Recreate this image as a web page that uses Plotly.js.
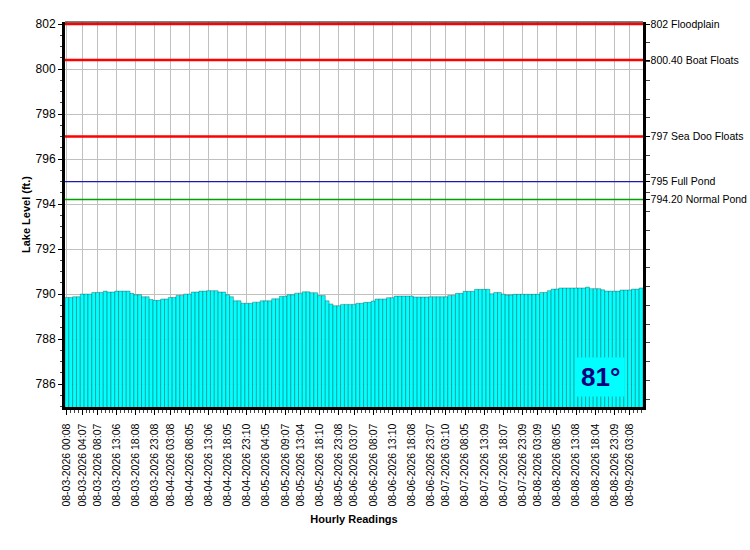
<!DOCTYPE html>
<html>
<head>
<meta charset="utf-8">
<script src="https://cdn.plot.ly/plotly-3.0.1.min.js"></script>
<style>html,body{margin:0;padding:0;background:#fff;}#chart{width:750px;height:550px;}</style>
</head>
<body>
<div id="chart"></div>
<script>
// Hourly lake level readings (ft.), 08-03-2026 00:08 onward, one per hour
var levels = [
  789.85, 789.85, 789.88, 789.88, 790.00, 790.00, 790.00, 790.07, 790.07, 790.07,
  790.13, 790.09, 790.09, 790.13, 790.13, 790.13, 790.13, 790.03, 789.97, 789.97,
  789.88, 789.88, 789.76, 789.72, 789.72, 789.78, 789.78, 789.85, 789.85, 789.94,
  789.94, 790.00, 790.00, 790.09, 790.09, 790.13, 790.13, 790.15, 790.15, 790.15,
  790.09, 790.09, 789.97, 789.88, 789.70, 789.70, 789.59, 789.59, 789.59, 789.64,
  789.64, 789.70, 789.70, 789.70, 789.79, 789.79, 789.90, 789.90, 789.97, 789.97,
  790.04, 790.04, 790.10, 790.10, 790.06, 790.06, 789.93, 789.93, 789.70, 789.56,
  789.48, 789.48, 789.54, 789.54, 789.54, 789.54, 789.59, 789.59, 789.63, 789.63,
  789.69, 789.78, 789.78, 789.78, 789.84, 789.84, 789.91, 789.91, 789.91, 789.91,
  789.91, 789.87, 789.87, 789.87, 789.87, 789.88, 789.88, 789.88, 789.88, 789.88,
  789.94, 789.94, 790.03, 790.03, 790.12, 790.12, 790.12, 790.21, 790.21, 790.21,
  790.21, 790.01, 790.07, 790.07, 790.00, 789.96, 789.96, 789.99, 789.99, 789.99,
  789.99, 789.99, 789.99, 789.99, 790.07, 790.07, 790.15, 790.22, 790.22, 790.27,
  790.27, 790.27, 790.27, 790.27, 790.27, 790.27, 790.31, 790.24, 790.24, 790.24,
  790.19, 790.13, 790.13, 790.13, 790.13, 790.18, 790.18, 790.18, 790.22, 790.22,
  790.27
];
// reading index (hours since first reading)
var hours = levels.map(function (v, i) { return i; });

// x-axis tick labels and the reading hour they sit at
var tickHours = [0, 4, 8, 13, 18, 23, 27, 32, 37, 42, 47, 52, 57, 61, 66, 71, 75, 80, 85, 90, 95, 99, 104, 109, 114, 119, 123, 128, 133, 138, 143, 147];
var tickLabels = [
  "08-03-2026 00:08", "08-03-2026 04:07", "08-03-2026 08:07", "08-03-2026 13:06", "08-03-2026 18:08", "08-03-2026 23:08",
  "08-04-2026 03:08", "08-04-2026 08:05", "08-04-2026 13:06", "08-04-2026 18:05", "08-04-2026 23:10",
  "08-05-2026 04:05", "08-05-2026 09:07", "08-05-2026 13:04", "08-05-2026 18:10", "08-05-2026 23:08",
  "08-06-2026 03:07", "08-06-2026 08:07", "08-06-2026 13:10", "08-06-2026 18:08", "08-06-2026 23:07",
  "08-07-2026 03:10", "08-07-2026 08:05", "08-07-2026 13:09", "08-07-2026 18:07", "08-07-2026 23:09",
  "08-08-2026 03:09", "08-08-2026 08:05", "08-08-2026 13:08", "08-08-2026 18:04", "08-08-2026 23:09",
  "08-09-2026 03:08"
];

// reference levels
var refLevels = [802, 800.4, 797, 795, 794.2];
var refLabels = ["802 Floodplain", "800.40 Boat Floats", "797 Sea Doo Floats", "795 Full Pond", "794.20 Normal Pond"];
var refColors = ["#ff0000", "#ff0000", "#ff0000", "#1a1ab4", "#00a000"];
var refWidths = [2.5, 2.5, 2.5, 1.3, 1.4];

var tempText = "81°";

var xMin = hours[0] - 0.5, xMax = hours[hours.length - 1] + 0.5;

var traces = [{
  type: "bar",
  x: hours,
  y: levels,
  width: 1,
  marker: { color: "#00ffff", line: { color: "rgba(0,0,0,0.55)", width: 0.5 } },
  hoverinfo: "y",
  showlegend: false
}];
refLevels.forEach(function (lv, i) {
  traces.push({
    type: "scatter", mode: "lines",
    x: [xMin, xMax], y: [lv, lv],
    yaxis: "y2",
    line: { color: refColors[i], width: refWidths[i] },
    hoverinfo: "skip", showlegend: false, cliponaxis: false
  });
});

var font = "'Liberation Sans', Arial, sans-serif";
var yr = [784.98, 802.09];

var layout = {
  width: 750, height: 550,
  margin: { l: 65, r: 107, t: 22, b: 143, pad: 0 },
  paper_bgcolor: "#ffffff", plot_bgcolor: "#ffffff",
  font: { family: font, size: 11, color: "#000" },
  bargap: 0,
  showlegend: false,
  xaxis: {
    range: [xMin, xMax],
    tickmode: "array", tickvals: tickHours, ticktext: tickLabels,
    tickangle: -90, ticks: "outside", ticklen: 5, tickcolor: "#000",
    ticklabelstandoff: 5,
    tickfont: { family: font, size: 10.5, color: "#000" },
    minor: { ticks: "outside", tickmode: "linear", tick0: 0, dtick: 1, ticklen: 3, tickcolor: "#444", showgrid: false },
    showgrid: true, gridcolor: "#c0c0c0", gridwidth: 1,
    showline: true, linecolor: "#000", linewidth: 2.5,
    zeroline: false, fixedrange: true,
    title: { text: "<b>Hourly Readings</b>", font: { family: font, size: 11, color: "#000" }, standoff: 10 }
  },
  yaxis: {
    range: yr,
    tickmode: "linear", tick0: 786, dtick: 2,
    ticks: "outside", ticklen: 4, tickcolor: "#000",
    tickfont: { family: font, size: 12, color: "#000" },
    minor: { ticks: "outside", tickmode: "linear", tick0: 786, dtick: 0.5, ticklen: 2, tickcolor: "#444", showgrid: false },
    showgrid: true, gridcolor: "#c0c0c0", gridwidth: 1,
    showline: true, linecolor: "#000", linewidth: 3,
    zeroline: false, fixedrange: true,
    title: { text: "<b>Lake Level (ft.)</b>", font: { family: font, size: 11, color: "#000" }, standoff: 3 }
  },
  yaxis2: {
    overlaying: "y", side: "right", range: yr,
    tickmode: "array", tickvals: refLevels, ticktext: refLabels,
    ticks: "outside", ticklen: 4, tickcolor: "#000",
    ticklabelstandoff: -1,
    tickfont: { family: font, size: 10.5, color: "#000" },
    minor: { ticks: "outside", tickmode: "linear", tick0: 802, dtick: 5 / 6, ticklen: 4, tickcolor: "#444", showgrid: false },
    showgrid: false, showline: true, linecolor: "#000", linewidth: 2.5,
    zeroline: false, fixedrange: true
  },
  shapes: [{
    type: "line", xref: "paper", yref: "paper", x0: 0, x1: 1, y0: 1, y1: 1,
    line: { color: "#000", width: 1 }, layer: "above"
  }],
  annotations: [{
    text: "<b>" + tempText + "</b>",
    xref: "paper", yref: "paper", x: 0.927, y: 0.078,
    xanchor: "center", yanchor: "middle", showarrow: false,
    font: { family: font, size: 26, color: "#000080" },
    bgcolor: "#00ffff", borderpad: 4
  }]
};

Plotly.newPlot("chart", traces, layout, { displayModeBar: false, staticPlot: true });
</script>
</body>
</html>
